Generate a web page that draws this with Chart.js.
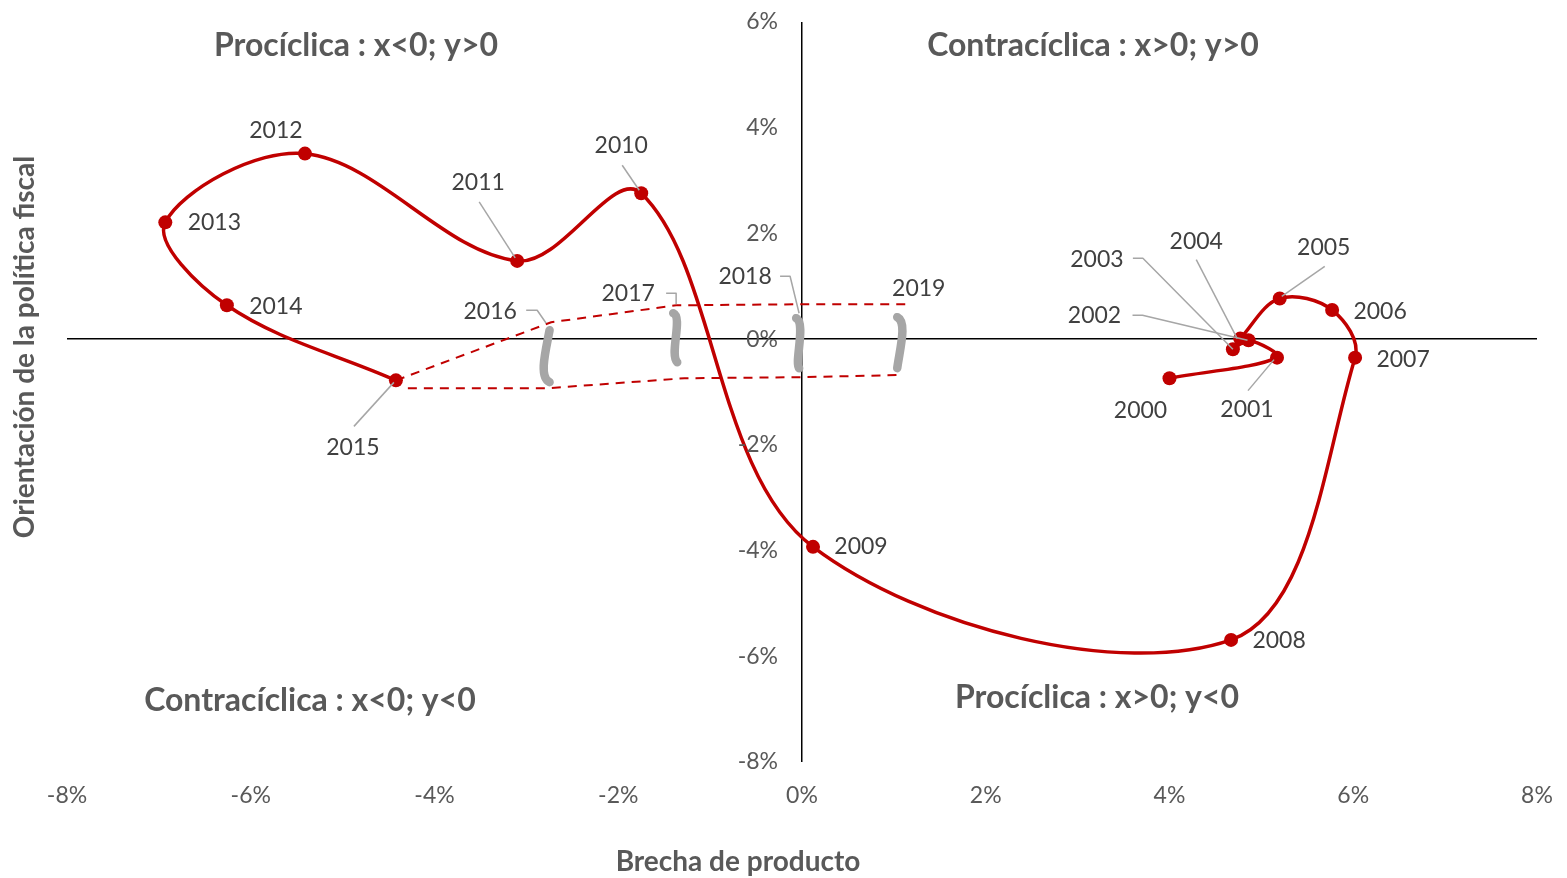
<!DOCTYPE html>
<html>
<head>
<meta charset="utf-8">
<script src="https://cdn.jsdelivr.net/npm/chart.js@4.4.1/dist/chart.umd.min.js"></script>
<style>
  html, body { margin: 0; padding: 0; background: #fff; }
  #wrap { width: 1567px; height: 878px; }
</style>
</head>
<body>
<div id="wrap"><canvas id="myChart" width="1567" height="878"></canvas></div>
<script>
// años y valores (% del PIB potencial)
const years = ['2000', '2001', '2002', '2003', '2004', '2005', '2006', '2007',
               '2008', '2009', '2010', '2011', '2012', '2013', '2014', '2015']
const outputGap = [4.00, 5.17, 4.86, 4.69, 4.77, 5.20, 5.77, 6.02,
                   4.67, 0.12, -1.75, -3.10, -5.41, -6.93, -6.26, -4.42]
const fiscalStance = [-0.74, -0.35, -0.02, -0.19, 0.01, 0.77, 0.55, -0.35,
                      -5.69, -3.93, 2.76, 1.48, 3.51, 2.21, 0.64, -0.78]

// tramo 2016-2019 (línea discontinua superior e inferior)
const yearsDashed = ['2016', '2017', '2018', '2019']
const upperGap = [-4.42, -2.73, -1.37, -0.01, 1.14]
const upperStance = [-0.78, 0.32, 0.64, 0.66, 0.66]
const lowerGap = [-4.29, -2.78, -1.28, -0.01, 1.04]
const lowerStance = [-0.93, -0.93, -0.74, -0.72, -0.68]

// marcas de corte
const breakGap = [-2.78, -1.38, -0.02, 1.08]

const xTicks = [-8, -6, -4, -2, 0, 2, 4, 6, 8]
const yTicks = [-8, -6, -4, -2, 0, 2, 4, 6]

const RED = '#c00000'
const GREY_TXT = '#595959'
const LABEL_TXT = '#404040'
const LEADER = '#a6a6a6'
const FONT = 'Lato, "Open Sans", sans-serif'

function toPoints(xs, ys){
    return xs.map((x, i) => ({x: x, y: ys[i]}))
}

// posición de cada etiqueta respecto a su punto (px) y línea guía
const labelPos = {
    '2000': {dx: -29, dy: 32},
    '2001': {dx: -30, dy: 52, lead: [[-29, 33], [-3, 2]]},
    '2002': {dx: -154, dy: -25, lead: [[-116, -25], [-106, -25], [-1, 0]]},
    '2003': {dx: -136, dy: -90, lead: [[-100, -91], [-90, -91], [0, 0]]},
    '2004': {dx: -44, dy: -97, lead: [[-44, -79], [-3, 0]]},
    '2005': {dx: 44, dy: -51, lead: [[45, -32], [2, -2]]},
    '2006': {dx: 48, dy: 2},
    '2007': {dx: 48, dy: 2},
    '2008': {dx: 48, dy: 1},
    '2009': {dx: 48, dy: 0},
    '2010': {dx: -20, dy: -48, lead: [[-19, -28], [-2, -3]]},
    '2011': {dx: -39, dy: -78, lead: [[-38, -59], [-2, -3]]},
    '2012': {dx: -29, dy: -23},
    '2013': {dx: 49, dy: 0},
    '2014': {dx: 49, dy: 1},
    '2015': {dx: -43, dy: 67, lead: [[-42, 46], [-2, 2]]},
    '2016': {dx: -61, dy: -11, lead: [[-25, -12], [-14, -12], [-5, 1]]},
    '2017': {dx: -48, dy: -12, lead: [[-10, -12], [0, -12], [0, -1]]},
    '2018': {dx: -56, dy: -28, lead: [[-21, -28], [-11, -28], [-2, 9]]},
    '2019': {dx: 12, dy: -16}
}

// forma de cada marca de corte, relativa a (x, 0%)
const breakShapes = [
    [[3, -9], [-1, 12], [-8, 38], [3, 43]],
    [[-2, -26], [8, -22], [-6, 15], [2, 23]],
    [[-4, -21], [6, -16], [-6, 24], [-1, 29]],
    [[-4, -22], [6, -17], [-1, 8], [-4, 29]]
]

const labelsPlugin = {
    id: 'labelsPlugin',
    afterDatasetsDraw(chart){
        const ctx = chart.ctx
        const xs = chart.scales.x
        const ys = chart.scales.y
        const zeroX = xs.getPixelForValue(0)
        const zeroY = ys.getPixelForValue(0)
        ctx.save()

        // marcas de corte
        ctx.strokeStyle = '#a6a6a6'
        ctx.lineWidth = 8.5
        ctx.lineCap = 'round'
        ctx.lineJoin = 'round'
        breakGap.forEach((g, i) => {
            const px = xs.getPixelForValue(g)
            const s = breakShapes[i]
            ctx.beginPath()
            ctx.moveTo(px + s[0][0], zeroY + s[0][1])
            ctx.bezierCurveTo(px + s[1][0], zeroY + s[1][1], px + s[2][0], zeroY + s[2][1], px + s[3][0], zeroY + s[3][1])
            ctx.stroke()
        })

        // etiquetas del eje vertical, junto a la línea x = 0
        ctx.fillStyle = GREY_TXT
        ctx.font = '23px ' + FONT
        ctx.textAlign = 'right'
        ctx.textBaseline = 'middle'
        ys.ticks.forEach((t) => {
            ctx.fillText(t.value + '%', zeroX - 24, ys.getPixelForValue(t.value))
        })

        const items = []
        chart.getDatasetMeta(0).data.forEach((pt, i) => items.push([years[i], pt.x, pt.y]))
        chart.getDatasetMeta(1).data.forEach((pt, i) => {
            if (i > 0) items.push([yearsDashed[i - 1], pt.x, pt.y])
        })

        ctx.lineWidth = 1.5
        ctx.strokeStyle = LEADER
        ctx.lineCap = 'butt'
        items.forEach(([yr, x, y]) => {
            const p = labelPos[yr]
            if (p.lead) {
                ctx.beginPath()
                p.lead.forEach((l, k) => {
                    if (k == 0) ctx.moveTo(x + l[0], y + l[1])
                    else ctx.lineTo(x + l[0], y + l[1])
                })
                ctx.stroke()
            }
        })

        ctx.fillStyle = LABEL_TXT
        ctx.font = '23px ' + FONT
        ctx.textAlign = 'center'
        items.forEach(([yr, x, y]) => {
            const p = labelPos[yr]
            ctx.fillText(yr, x + p.dx, y + p.dy)
        })

        // títulos de cuadrantes
        const area = chart.chartArea
        ctx.fillStyle = GREY_TXT
        ctx.font = 'bold 32px ' + FONT
        ctx.fillText('Procíclica : x<0; y>0', area.left + 289, area.top + 24)
        ctx.fillText('Contracíclica : x>0; y>0', area.left + 1026, area.top + 24)
        ctx.fillText('Contracíclica : x<0; y<0', area.left + 243, area.top + 679)
        ctx.fillText('Procíclica : x>0; y<0', area.left + 1030, area.top + 676)

        // títulos de ejes
        ctx.font = 'bold 28px ' + FONT
        ctx.fillText('Brecha de producto', 738, 862)
        ctx.translate(25, 347)
        ctx.rotate(-Math.PI / 2)
        ctx.fillText('Orientación de la política fiscal', 0, 0)
        ctx.restore()
    }
}

let data = {
    datasets: [{
        label: 'Trayectoria',
        data: toPoints(outputGap, fiscalStance),
        showLine: true,
        tension: 0.35,
        borderColor: RED,
        borderWidth: 3.5,
        backgroundColor: RED,
        pointRadius: 7,
        pointBorderWidth: 0,
        order: 1
    }, {
        label: 'Superior',
        data: toPoints(upperGap, upperStance),
        showLine: true,
        tension: 0,
        borderColor: RED,
        borderWidth: 2,
        borderDash: [9, 7],
        pointRadius: 0,
        order: 2
    }, {
        label: 'Inferior',
        data: toPoints(lowerGap, lowerStance),
        showLine: true,
        tension: 0,
        borderColor: RED,
        borderWidth: 2,
        borderDash: [9, 7],
        pointRadius: 0,
        order: 2
    }]
}

let config = {
    type: 'scatter',
    data: data,
    options: {
        responsive: false,
        animation: false,
        layout: {
            padding: {top: 22, left: 67, right: 30, bottom: 0}
        },
        scales: {
            x: {
                type: 'linear',
                position: 'bottom',
                min: xTicks[0],
                max: xTicks[xTicks.length - 1],
                afterBuildTicks: (scale) => { scale.ticks = xTicks.map(v => ({value: v})) },
                afterFit: (scale) => {
                    scale.height = 116
                    scale.paddingLeft = 0
                    scale.paddingRight = 0
                },
                border: {display: false},
                grid: {
                    drawTicks: false,
                    lineWidth: 1.5,
                    color: (c) => c.tick && c.tick.value === 0 ? '#000000' : 'rgba(0,0,0,0)'
                },
                ticks: {
                    padding: 20,
                    color: GREY_TXT,
                    font: {family: FONT, size: 23},
                    callback: (v) => v + '%'
                }
            },
            y: {
                type: 'linear',
                position: {x: 0},
                min: yTicks[0],
                max: yTicks[yTicks.length - 1],
                afterBuildTicks: (scale) => { scale.ticks = yTicks.map(v => ({value: v})) },
                afterFit: (scale) => { scale.width = 0 },
                border: {display: false},
                grid: {
                    drawTicks: false,
                    lineWidth: 1.5,
                    color: (c) => c.tick && c.tick.value === 0 ? '#000000' : 'rgba(0,0,0,0)'
                },
                ticks: {display: false}
            }
        },
        plugins: {
            legend: {display: false},
            tooltip: {enabled: false}
        }
    },
    plugins: [labelsPlugin]
}

let mychart = new Chart(document.getElementById('myChart'), config)
</script>
</body>
</html>
